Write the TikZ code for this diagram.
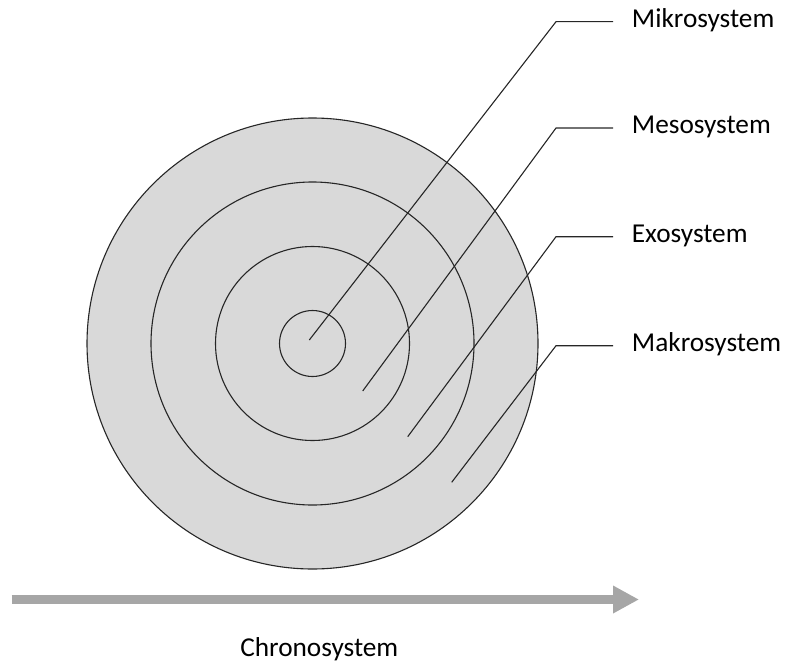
\documentclass[tikz,border=0pt]{standalone}
\usepackage{fontspec}
\setmainfont{Carlito}
\usetikzlibrary{arrows.meta}
\definecolor{ringfill}{HTML}{D9D9D9}
\definecolor{ringline}{HTML}{262626}
\definecolor{chronogrey}{HTML}{A6A6A6}

\begin{document}
\begin{tikzpicture}[
  x=1pt, y=-1pt,
  ring/.style={circle, draw=ringline, line width=1.1pt, fill=ringfill,
               inner sep=0pt, minimum size=#1},
  sysname/.style={anchor=west, inner xsep=18.7pt, inner ysep=0pt,
                  text height=17pt, text depth=6pt,
                  font=\fontsize{27.3}{32}\selectfont},
  leader/.style={draw=ringline, line width=1.1pt},
  timearrow/.style={-{Triangle[length=26pt, width=26pt]}, chronogrey,
                    line width=9pt},
]
\useasboundingbox (0,0) rectangle (791,663);

% ---------------- nested systems ------------------------------------
\coordinate (mid) at (312.5,343.5);
\node[ring=451pt] (makroring) at (mid) {};
\node[ring=323pt] (exoring)   at (mid) {};
\node[ring=194pt] (mesoring)  at (mid) {};
\node[ring=66pt]  (mikroring) at (mid) {};

% ---------------- labels and leaders --------------------------------
\node[sysname] (mikro) at (613,21.7)  {Mikrosystem};
\node[sysname] (meso)  at (613,128)   {Mesosystem};
\node[sysname] (exo)   at (613,236.7) {Exosystem};
\node[sysname] (makro) at (613,345.7) {Makrosystem};

\coordinate (mikro-knick) at (556,21.7);
\coordinate (meso-knick)  at (556,128);
\coordinate (exo-knick)   at (556,236.7);
\coordinate (makro-knick) at (556,345.7);

\coordinate (mikro-end) at (309.3,340);
\coordinate (meso-end)  at (362.7,391);
\coordinate (exo-end)   at (407.7,436.7);
\coordinate (makro-end) at (451.7,482.3);

\foreach \s in {mikro,meso,exo,makro}
  \draw[leader] (\s.west) -- (\s-knick) -- (\s-end);

% ---------------- time axis -----------------------------------------
\coordinate (tstart) at (11.7,599.5);
\coordinate (tend)   at (639,599.5);
\draw[timearrow] (tstart) -- (tend);
\node[anchor=base, inner sep=0pt, font=\fontsize{27.3}{32}\selectfont]
  (chrono) at (319.3,656.7) {Chronosystem};

\end{tikzpicture}
\end{document}
